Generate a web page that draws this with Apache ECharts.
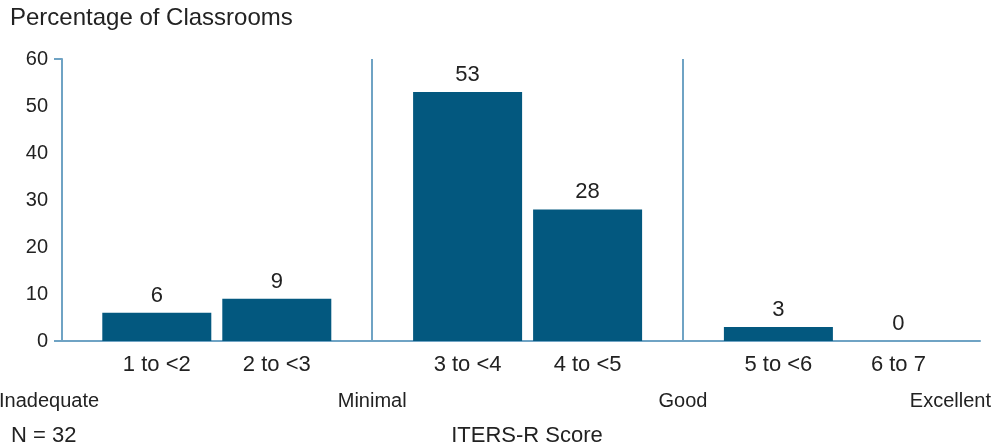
<!DOCTYPE html>
<html>
<head>
<meta charset="utf-8">
<script src="https://cdn.jsdelivr.net/npm/echarts@6/dist/echarts.min.js"></script>
<style>
  html, body { margin: 0; padding: 0; background: #fff; }
  #chart { width: 994px; height: 446px; }
</style>
</head>
<body>
<div id="chart"></div>
<script>
// ITERS-R score bands and share of classrooms in each
const categories = ['1 to <2', '2 to <3', '3 to <4', '4 to <5', '5 to <6', '6 to 7'];
const percentages = [6, 9, 53, 28, 3, 0];
// which rating range each band belongs to (separated by vertical rules)
const bandGroup = [0, 0, 1, 1, 2, 2];
const anchorLabels = ['Inadequate', 'Minimal', 'Good', 'Excellent'];
const yMin = 0, yMax = 60, yStep = 10;
const sampleNote = 'N = 32';
const xTitle = 'ITERS-R Score';
const yTitle = 'Percentage of Classrooms';

// slot layout on a hidden linear x scale: one unit per band, extra gap between groups
const FIRST = 0.79, GROUP_GAP = 0.59, X_MAX = 7.65;
const slot = categories.map((c, i) => FIRST + i + GROUP_GAP * bandGroup[i]);
const separators = [];
for (let i = 1; i < slot.length; i++) {
  if (bandGroup[i] !== bandGroup[i - 1]) separators.push((slot[i] + slot[i - 1]) / 2);
}

const FONT = '"Liberation Sans", Arial, Helvetica, sans-serif';
const TEXT = '#222';
const AXIS = '#6fa3c4';
const BAR = '#03587f';

const chart = echarts.init(document.getElementById('chart'));
chart.setOption({
  animation: false,
  textStyle: { fontFamily: FONT },
  grid: { left: 62, right: 14, top: 59, bottom: 105 },
  xAxis: {
    type: 'value', min: 0, max: X_MAX,
    splitLine: { show: false },
    axisLine: { show: true, onZero: false, lineStyle: { color: AXIS, width: 2 } },
    axisTick: { show: false },
    axisLabel: {
      customValues: slot,
      formatter: v => {
        let k = 0;
        slot.forEach((s, i) => { if (Math.abs(s - v) < Math.abs(slot[k] - v)) k = i; });
        return categories[k];
      },
      color: TEXT, fontSize: 22, fontFamily: FONT, margin: 13
    }
  },
  yAxis: {
    type: 'value', min: yMin, max: yMax, interval: yStep,
    splitLine: { show: false },
    axisLine: { show: true, lineStyle: { color: AXIS, width: 2 } },
    axisTick: { show: true, customValues: [yMin, yMax], length: 8, lineStyle: { color: AXIS, width: 2 } },
    axisLabel: { color: TEXT, fontSize: 20, fontFamily: FONT, margin: 14 }
  },
  series: [{
    type: 'bar',
    barWidth: 109,
    data: slot.map((s, i) => [s, percentages[i]]),
    itemStyle: { color: BAR },
    label: {
      show: true, position: 'top', distance: 6,
      formatter: p => String(p.value[1]),
      color: TEXT, fontSize: 22, fontFamily: FONT
    },
    markLine: {
      silent: true, symbol: 'none',
      lineStyle: { color: AXIS, width: 2, type: 'solid' },
      label: { show: false },
      data: separators.map(s => [{ coord: [s, yMin] }, { coord: [s, yMax] }])
    }
  }]
});

// rating anchors under the axis: inner ones sit on the separators, outer ones at the edges
const sepPx = separators.map(s => chart.convertToPixel({ xAxisIndex: 0 }, s));
const anchorY = 401;
chart.setOption({
  graphic: [
    { type: 'text', left: 10, top: 6, style: { text: yTitle, font: '24px ' + FONT, fill: TEXT } },
    { type: 'text', x: -1, y: anchorY, style: { text: anchorLabels[0], font: '20px ' + FONT, fill: TEXT, align: 'left', verticalAlign: 'middle' } },
    { type: 'text', x: sepPx[0], y: anchorY, style: { text: anchorLabels[1], font: '20px ' + FONT, fill: TEXT, align: 'center', verticalAlign: 'middle' } },
    { type: 'text', x: sepPx[1], y: anchorY, style: { text: anchorLabels[2], font: '20px ' + FONT, fill: TEXT, align: 'center', verticalAlign: 'middle' } },
    { type: 'text', x: 991, y: anchorY, style: { text: anchorLabels[3], font: '20px ' + FONT, fill: TEXT, align: 'right', verticalAlign: 'middle' } },
    { type: 'text', x: 11, y: 436, style: { text: sampleNote, font: '22px ' + FONT, fill: TEXT, align: 'left', verticalAlign: 'middle' } },
    { type: 'text', x: 527, y: 436, style: { text: xTitle, font: '22px ' + FONT, fill: TEXT, align: 'center', verticalAlign: 'middle' } }
  ]
});
</script>
</body>
</html>
